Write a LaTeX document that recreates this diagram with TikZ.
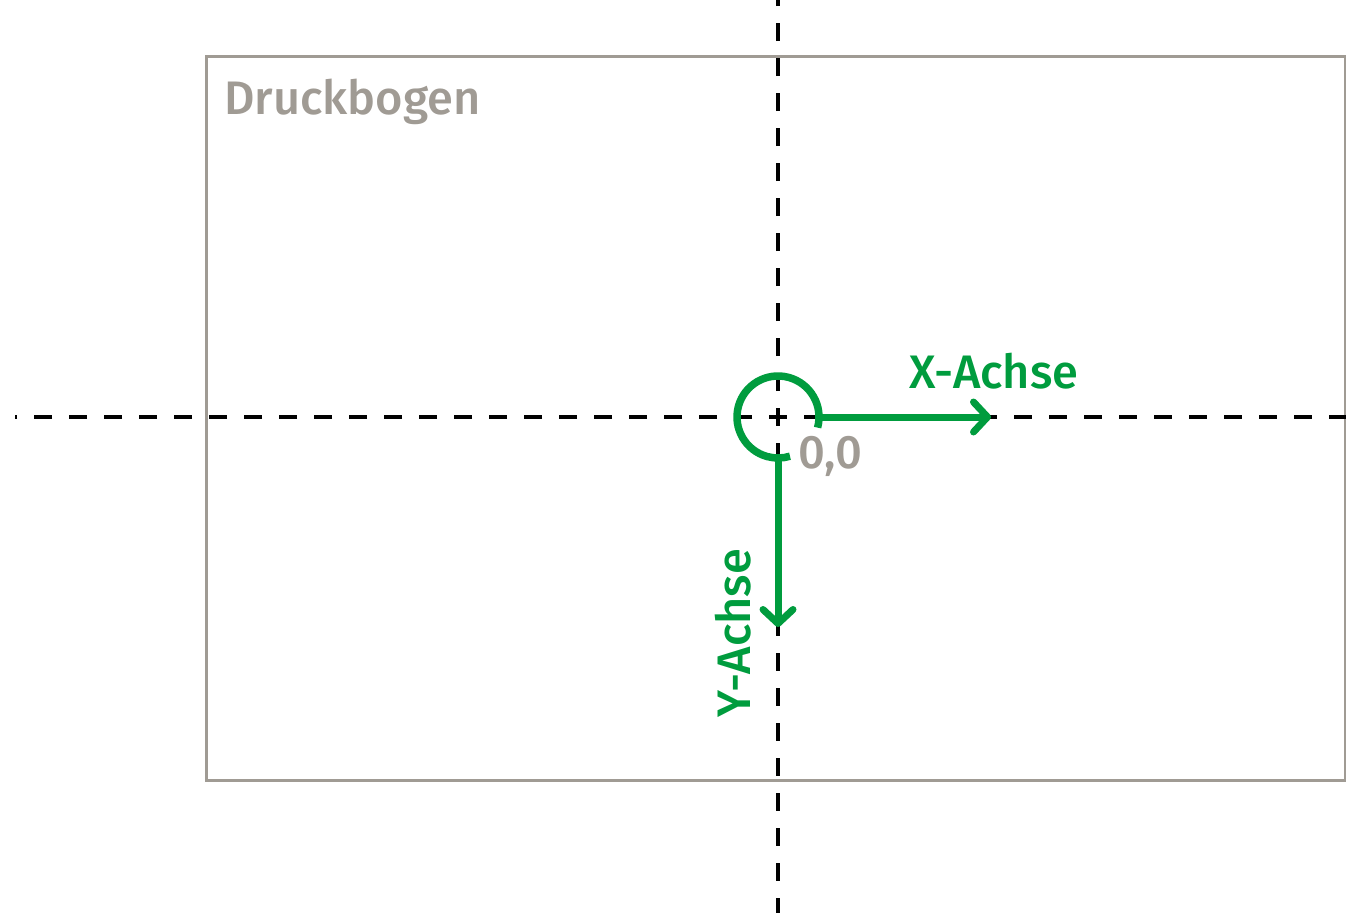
\documentclass[tikz,border=0pt]{standalone}
\usepackage{fontspec}
\setmainfont{Fira Sans Medium}
\usetikzlibrary{arrows.meta}
\definecolor{axgreen}{RGB}{0,156,62}
\definecolor{sheetgray}{RGB}{160,155,148}
\tikzset{
  guide/.style={black,line width=3.5pt,dash pattern=on 18pt off 17pt,dash phase=9pt},
  sheet/.style={draw=sheetgray,line width=3pt},
  axis/.style={axgreen,line width=7pt,-{Straight Barb[length=14pt,width=30pt,line width=7pt,round]}},
  lbl/.style={inner sep=0pt,font=\fontsize{47}{56}\selectfont},
}
\begin{document}
\begin{tikzpicture}[x=1pt,y=-1pt]
\useasboundingbox (0,0) rectangle (1346,913);
\coordinate (o) at (778,417);
\coordinate (left) at (15,417);
\coordinate (right) at (1346,417);
\coordinate (top) at (778,0);
\coordinate (bottom) at (778,913);
\draw[sheet] (206,56) rectangle (1345,780);
\node[lbl,anchor=base west,text=sheetgray] (sheetlbl) at (224,114) {Druckbogen};
\draw[guide] (o) -- (left);
\draw[guide] (o) -- (right);
\draw[guide] (o) -- (top);
\draw[guide] (o) -- (bottom);
\coordinate (xs) at (820,417);
\coordinate (ys) at (778,458);
\coordinate (xe) at (991,417);
\coordinate (ye) at (778,627);
\draw[axgreen,line width=7.5pt] ([shift={(15:41)}]o) arc[start angle=15,end angle=-287,radius=41];
\draw[axis] (xs) -- (xe);
\draw[axis] (ys) -- (ye);
\node[lbl,anchor=base,text=axgreen] (xl) at (994,388) {X-Achse};
\node[lbl,anchor=base,text=axgreen,rotate=90] (yl) at (750,633) {Y-Achse};
\node[lbl,anchor=base,text=sheetgray] (zero) at (830,468) {0,0};
\end{tikzpicture}
\end{document}
